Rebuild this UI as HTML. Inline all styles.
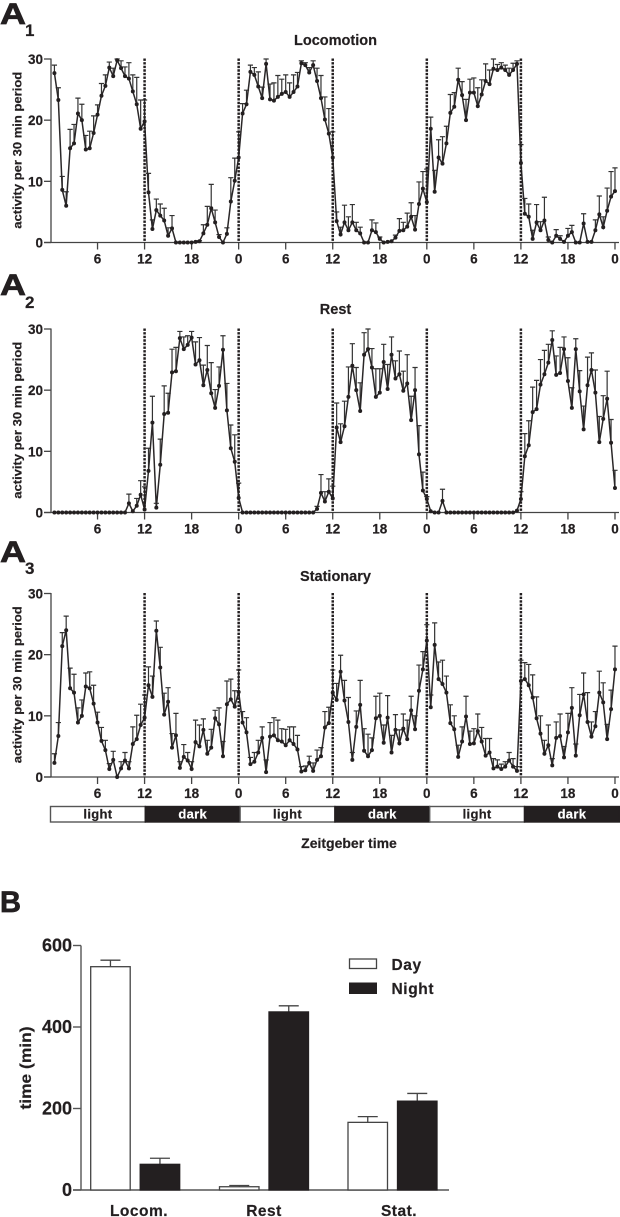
<!DOCTYPE html>
<html lang="en">
<head>
<meta charset="utf-8">
<title>Activity rhythm charts</title>
<style>
html,body{margin:0;padding:0;background:#fff;}
body{width:620px;height:1217px;overflow:hidden;}
svg{display:block;}
text{font-family:"Liberation Sans",sans-serif;font-weight:bold;fill:#231f20;stroke:#231f20;stroke-width:0.2;}
</style>
</head>
<body>
<svg id="fig" xmlns="http://www.w3.org/2000/svg" width="620" height="1217" viewBox="0 0 620 1217"></svg>
<script>
const locomotionValues = [
27.7,23.3,8.6,6,15.4,16.2,21.1,20,15.2,15.4,17.9,20.9,
24,25.6,28.6,27.2,29.8,28.5,27.2,26.8,24.7,22.6,18.6,19.8,
8.2,2.2,5.3,4.4,3.6,1.1,2.3,0,0,0,0,0,
0.1,0.2,1.5,2.9,5.6,3.3,0.9,0,1.4,6.7,10.1,13.9,
21.1,22.6,27.9,27.4,25.5,23.6,29.2,23.4,23.2,23.8,24.3,24.6,
23.8,24.6,25.5,29.3,29,27.8,29,26.4,23.6,20.1,17.8,13.9,
3.5,1.3,3.3,2,3.3,2,1.5,0,0,2,1.7,0.6,
0,0.1,0.2,0.8,1.9,2,2.6,4.2,2.1,6.3,8.8,6.6,
18.6,8.3,13.9,12.9,16.2,21.2,22.2,26.6,24.1,20,24.5,24.5,
22.3,24.2,26.4,25.9,28.4,28.2,28.6,28.2,27.4,28.2,29.2,13,
4.7,4.2,0.6,3.3,2,3.6,0.4,0,1.1,0.6,0.1,1.1,
1.7,0,0,3.1,0.1,0.1,2,4.6,2.5,5.2,7.5,8.4];
const locomotionUpper = [
29,25.3,10.8,8.3,18.5,19.3,23.6,22.6,17.5,18.2,20.7,22.5,
26,27.4,29.5,28.5,30,29.7,28.7,29.4,27.4,27,23.3,23.3,
11.3,3.7,7.1,6.3,5.6,2.4,4.4,0,0,0,0,0,
0.1,0.3,2.9,5.9,9.5,5.3,1.3,0,2.4,10.6,13.8,18.1,
22.7,24.9,29,28.6,27.9,25.4,30,25.9,26.1,27.3,26.7,27.4,
26.1,27.4,27.8,29.7,29.4,28.6,29.7,28.5,27.3,23.8,21.9,18.1,
5,2.5,6.1,4.2,6.2,3.3,2.5,0,0,3.7,3.2,0.9,
0,0.1,0.2,1.2,3.9,3.3,4.8,6.5,4.4,9.9,11.6,12,
20.5,11.8,16.8,17.3,19,24.2,24.5,28.5,26.3,23.4,26.7,26.9,
25.3,26.6,29.2,28.2,30,29.1,29.4,29,28.5,29.3,29.7,16,
7.2,6.3,2,6.2,3.4,7.4,0.9,0,2.1,1.1,0.1,2.3,
2.8,0,0,4.7,0.1,0.1,3.7,7.6,4.2,8.9,11.6,12.2];
const restValues = [
0,0,0,0,0,0,0,0,0,0,0,0,
0,0,0,0,0,0,0,1.5,0.2,1.1,2.9,0.5,
6.8,14.7,0.8,7.8,16.1,16.3,22.9,23.1,28.5,26.7,27.4,28.6,
24.2,24.9,20.8,23.3,19.5,17.1,20.7,26.6,16.7,10.5,8.3,2.4,
0,0,0,0,0,0,0,0,0,0,0,0,
0,0,0,0,0,0,0,0.6,3.2,1.8,3.4,2.3,
13.9,11.5,14.1,18.9,24,20,16.6,25.8,26.7,23.7,18.9,19.6,
24.6,20.2,25.8,21.9,22.6,19.9,21.1,15.1,20,9.5,3.6,2.2,
0.2,0,0,1.9,0,0,0,0,0,0,0,0,
0,0,0,0,0,0,0,0,0,0,0.3,2.2,
9.2,11,16.4,16.9,20.9,22.6,24.5,28.2,22.5,22.8,26.7,21.5,
17.1,26.7,19.8,13.6,20.8,23.3,19.6,11.5,15.3,18.6,11.4,4];
const restUpper = [
0,0,0,0,0,0,0,0,0,0,0,0,
0,0,0,0,0,0,0,3,0.2,2.3,5.2,4.2,
10.5,19,1.5,12,20.7,19.5,26.7,27,29.6,28.7,28.9,29.6,
27.9,28.6,24.1,27.3,24.5,20.1,23.8,28.9,21.1,14.3,12.7,4.8,
0,0,0,0,0,0,0,0,0,0,0,0,
0,0,0,0,0,0,0,1,6.2,3.4,5.5,4.3,
17.9,14.5,18.2,23.8,27.6,23.7,21.2,29.4,30,26.8,23.5,23.5,
27.5,24.2,28.7,24.8,26.4,23.1,25.8,19,23.7,14.2,6.6,2.6,
0.2,0,0,3.8,0,0,0,0,0,0,0,0,
0,0,0,0,0,0,0,0,0,0,0.3,3.4,
12.9,15,20.5,21.6,25,26.5,27.5,29.7,25.6,27,28.7,25.3,
20.4,28.4,23.2,17.4,25.4,26.1,23.3,15.7,19.1,23.1,15.2,6.9];
const stationaryValues = [
2.3,6.7,21.4,24,14.5,13.8,8.9,10,14.8,14.5,12,8.9,
5.9,4.4,1.3,2.8,0,1.4,2.7,1.4,5.4,6.2,8.5,9.7,
15,13.1,23.9,17.9,10.2,12.3,4.8,6.8,1.5,3.3,2.7,1.3,
5.7,5,7.7,3.8,4.8,9.6,8.6,3.4,11.9,12.7,11.5,13.9,
8.9,7.3,2.1,2.5,4,6.4,0.8,6.6,6.8,6,5.8,5.2,
6,5.4,4.5,0.9,1.1,2.3,1,2.8,3.4,8.1,8.8,13.8,
12.6,17.2,12.5,9,2.8,8.2,11.8,4.3,3.4,4.4,9.6,10,
5.6,9.7,4,7.7,5.5,7.9,6.2,10.9,7.8,14.1,17.6,22.3,
11.4,21.6,16,15.2,13.8,8.8,7.8,3.3,5.8,9.9,5.4,5.5,
7.5,5.8,3.5,4,1.4,1.7,1.3,1.7,2.7,1.7,1,15.7,
16,15,13,9.6,7.1,3.8,5.2,1.9,6.4,6.7,3.2,7.3,
11.3,3.5,10.1,13.5,9,6.6,8.3,13.8,12.2,6.2,11.1,17.6];
const stationaryUpper = [
3.8,8.9,23.6,26.3,17.8,16.8,11.3,12.6,17,17.2,15,10.6,
8.1,6,2.2,4.2,0,2.5,4,2.5,8.2,10.1,11.9,13.4,
18,16.5,25.5,21.2,13.7,14.6,7.1,10.4,2.5,5.3,4,2.5,
9.3,8.5,9.5,6,7.8,10.9,11.3,5.8,15.7,16,14.1,17.5,
10.7,9.7,3.2,4,6,8.2,2.8,8.9,9.7,9.3,7.9,7.8,
8.2,8.2,6.8,1.7,1.8,3.4,2.3,4.4,4.8,10.7,11.4,17.5,
15.3,19.9,15.8,13,4,10.8,15.8,7.9,7,6.4,13.2,13.7,
8.5,13.3,6.8,10.2,7.7,10.3,9.3,13.2,10,18.3,20.5,24.9,
13.4,25.2,18.8,19.1,16.5,11.8,10,5.2,8.2,13.2,7.5,7.9,
10.3,8.1,6.3,6.3,3,2.8,2.1,2.5,4,3,1.7,19.1,
18.7,18.4,16.7,13.1,10,6,8.5,3,9,10.3,5,10.4,
14.6,5.4,13.5,17,13.8,9,10.7,17.3,15.4,8.6,14.2,21.4];

const yTicks = [0,10,20,30];
const xTickHours = [6,12,18,24,30,36,42,48,54,60,66,72];
const xTickLabels = ['6','12','18','0','6','12','18','0','6','12','18','0'];
const boundaryHours = [12,24,36,48,60];
const phaseNames = ['light','dark','light','dark','light','dark'];

const barCategories = ['Locom.','Rest','Stat.'];
const dayMeans = [548,8,166];
const nightMeans = [63,437,218];
const dayUpper = [564,11,180];
const nightUpper = [78,452,237];
const barTicks = [0,200,400,600];

const svg = document.getElementById('fig');
const NS = 'http://www.w3.org/2000/svg';
const INK = '#231f20';

function mk(tag, attrs, parent, txt){
  const el = document.createElementNS(NS, tag);
  for (const k in attrs) el.setAttribute(k, attrs[k]);
  if (txt !== undefined) el.textContent = txt;
  (parent || svg).appendChild(el);
  return el;
}
function xScale(hour){ return 50.5 + hour * 7.84; }
function phaseX(hour){ return 50.5 + hour * 7.9; }

function panelLetter(letter, sub, capY, subY, name, w){
  const a = mk('text', {x:0, y:capY, 'font-size':30, textLength:w, lengthAdjust:'spacingAndGlyphs', style:'stroke-width:0.7'}, svg, letter);
  
  
  if (sub) {
    const s = mk('text', {x:25, y:subY, 'font-size':17}, svg, sub);
    
    
  }
}

function linePanel(opt){
  const top = opt.top, zero = opt.zero;
  const yScale = v => zero - v * (zero - top) / 30;
  const g = mk('g', {}, svg);
  
  

  const ttl = mk('text', {x:335.5, y:opt.titleY, 'font-size':14.5, 'text-anchor':'middle'}, g, opt.title);
  
  

  const yt = mk('text', {x:0, y:0, 'font-size':12, 'text-anchor':'middle', textLength:157, lengthAdjust:'spacingAndGlyphs', transform:'translate(21.5 ' + ((top + zero)/2 - 0.5) + ') rotate(-90)'}, g, 'activity per 30 min period');
  
  

  const yAxis = mk('line', {x1:51, x2:51, y1:top - 0.5, y2:zero, stroke:'#444', 'stroke-width':1.3}, g);
  
  
  const xAxis = mk('line', {x1:44, x2:619, y1:zero, y2:zero, stroke:'#444', 'stroke-width':1.3}, g);
  
  

  yTicks.forEach(t => {
    const tk = mk('line', {x1:44, x2:51, y1:yScale(t), y2:yScale(t), stroke:'#444', 'stroke-width':1.3}, g);
    
    
    const lb = mk('text', {x:43, y:yScale(t) + 5, 'font-size':13.5, 'text-anchor':'end'}, g, String(t));
    
    
  });
  xTickHours.forEach((h, i) => {
    const tk = mk('line', {x1:xScale(h), x2:xScale(h), y1:zero, y2:zero + 7, stroke:'#444', 'stroke-width':1.3}, g);
    
    
    const lb = mk('text', {x:xScale(h), y:zero + 21, 'font-size':13.5, 'text-anchor':'middle'}, g, xTickLabels[i]);
    
    
  });

  const pts = opt.values.map((v, i) => xScale((i + 1) / 2).toFixed(2) + ',' + yScale(v).toFixed(2)).join(' ');

  opt.values.forEach((v, i) => {
    const u = opt.upper[i];
    if (u <= v) return;
    const cx = xScale((i + 1) / 2);
    const eb = mk('path', {d:'M' + cx + ' ' + yScale(v) + 'V' + yScale(u) + 'M' + (cx - 2.6) + ' ' + yScale(u) + 'H' + (cx + 2.6), fill:'none', stroke:'#333', 'stroke-width':1.2}, g);
    
    
  });

  const ln = mk('polyline', {points:pts, fill:'none', stroke:'#2a2728', 'stroke-width':1.5}, g);
  
  

  opt.values.forEach((v, i) => {
    const p = mk('circle', {cx:xScale((i + 1) / 2), cy:yScale(v), r:2, fill:INK}, g);
    
    
  });

  boundaryHours.forEach(h => {
    const d = mk('line', {x1:xScale(h), x2:xScale(h), y1:top - 0.5, y2:zero, stroke:INK, 'stroke-width':2.5, 'stroke-dasharray':'2.4 1.2'}, g);
    
    
  });
}

panelLetter('A', '1', 24, 36, 'panel-a1', 26);
panelLetter('A', '2', 295, 308, 'panel-a2', 26);
panelLetter('A', '3', 562, 574, 'panel-a3', 26);
panelLetter('B', '', 912, 912, 'panel-b', 21);

linePanel({name:'locomotion', title:'Locomotion', titleY:45, top:59, zero:242.5, values:locomotionValues, upper:locomotionUpper});
linePanel({name:'rest', title:'Rest', titleY:314, top:329, zero:512.5, values:restValues, upper:restUpper});
linePanel({name:'stationary', title:'Stationary', titleY:581, top:593.5, zero:777, values:stationaryValues, upper:stationaryUpper});

const phaseBar = mk('g', {}, svg);


phaseNames.forEach((n, i) => {
  const x0 = phaseX(i * 12), x1 = phaseX((i + 1) * 12);
  const r = mk('rect', {x:x0, y:806.5, width:x1 - x0, height:15.5, fill:n === 'dark' ? INK : '#fff', stroke:n === 'dark' ? INK : '#555', 'stroke-width':1.4}, phaseBar);
  
  
  const t = mk('text', {x:(x0 + x1) / 2, y:818.5, 'font-size':13, 'text-anchor':'middle', 'letter-spacing':'0.3', style:n === 'dark' ? 'fill:#fff;stroke:#fff' : ''}, phaseBar, n);
  
  
});
const zt = mk('text', {x:349, y:848, 'font-size':14, 'text-anchor':'middle'}, svg, 'Zeitgeber time');



/* Panel B */
const bZero = 1190, bTop = 945.5;
const bScale = v => bZero - v * (bZero - bTop) / 600;
const bGroupLeft = [90.7, 219.5, 348];
const barW = 39.5, barGap = 49.5;

const bG = mk('g', {}, svg);



const bYAxis = mk('line', {x1:81, x2:81, y1:bTop, y2:bZero, stroke:'#555', 'stroke-width':1.4}, bG);


const bXAxis = mk('line', {x1:73, x2:449, y1:bZero, y2:bZero, stroke:'#555', 'stroke-width':1.4}, bG);



barTicks.forEach(t => {
  const tk = mk('line', {x1:73, x2:81, y1:bScale(t), y2:bScale(t), stroke:'#555', 'stroke-width':1.4}, bG);
  
  
  const lb = mk('text', {x:72, y:bScale(t) + 6, 'font-size':18, 'text-anchor':'end'}, bG, String(t));
  
  
});
const bYT = mk('text', {x:0, y:0, 'font-size':16, 'text-anchor':'middle', textLength:83, lengthAdjust:'spacingAndGlyphs', transform:'translate(31 1068) rotate(-90)'}, bG, 'time (min)');



function drawBar(x, mean, upper, dark, name){
  const cx = x + barW / 2;
  const eb = mk('path', {d:'M' + cx + ' ' + bScale(mean) + 'V' + bScale(upper) + 'M' + (cx - 10) + ' ' + bScale(upper) + 'H' + (cx + 10), fill:'none', stroke:'#444', 'stroke-width':1.3}, bG);
  
  
  const r = mk('rect', {x:x, y:bScale(mean), width:barW, height:bZero - bScale(mean), fill:dark ? INK : '#fff', stroke:dark ? INK : '#444', 'stroke-width':1.3}, bG);
  
  
}
barCategories.forEach((c, i) => {
  drawBar(bGroupLeft[i], dayMeans[i], dayUpper[i], false, 'bar-day-' + i);
  drawBar(bGroupLeft[i] + barGap, nightMeans[i], nightUpper[i], true, 'bar-night-' + i);
  const lb = mk('text', {x:[139, 264, 399][i], y:1216, 'font-size':15.5, 'text-anchor':'middle', 'letter-spacing':'0.5'}, bG, c);
  
  
});

const legDay = mk('rect', {x:349.5, y:959, width:27, height:9.5, fill:'#fff', stroke:'#444', 'stroke-width':1.3}, svg);


const legDayT = mk('text', {x:391.5, y:970, 'font-size':15.5, 'letter-spacing':'0.6'}, svg, 'Day');


const legNight = mk('rect', {x:349.5, y:983, width:27, height:10.5, fill:INK, stroke:INK, 'stroke-width':1}, svg);


const legNightT = mk('text', {x:391.5, y:994, 'font-size':15.5, 'letter-spacing':'0.6'}, svg, 'Night');


</script>
</body>
</html>
